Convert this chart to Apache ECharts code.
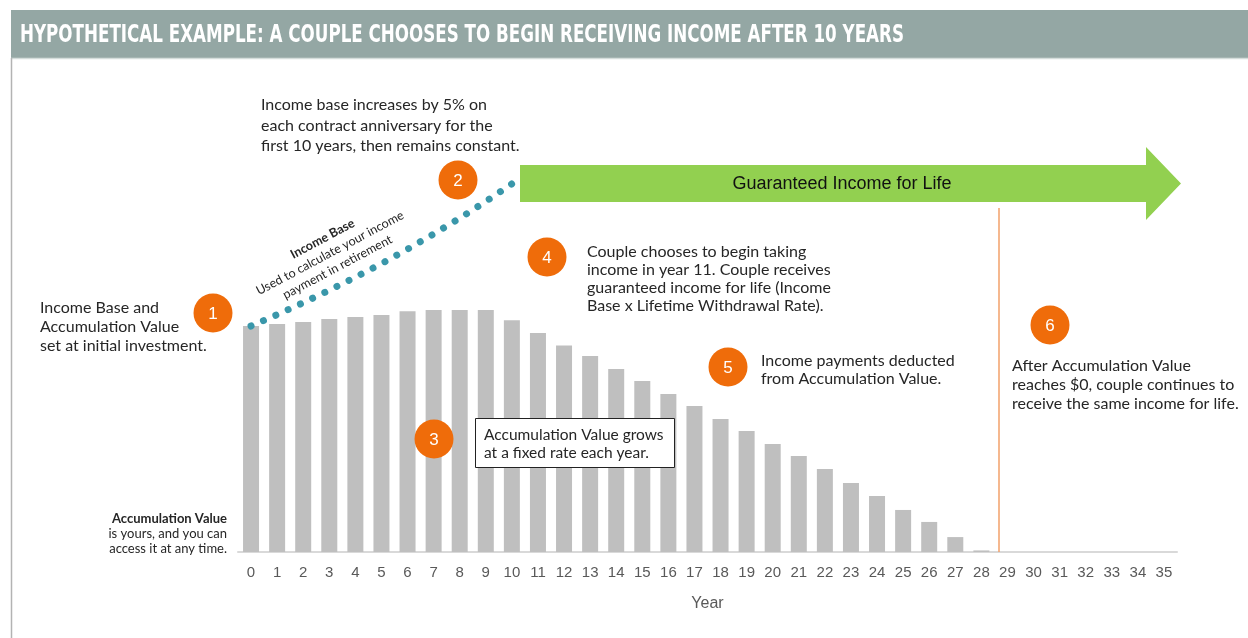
<!DOCTYPE html>
<html>
<head>
<meta charset="utf-8">
<script src="https://cdn.jsdelivr.net/npm/echarts@6/dist/echarts.min.js"></script>
<style>
  html, body { margin: 0; padding: 0; background: #fff; }
  #chart { width: 1248px; height: 638px; }
</style>
</head>
<body>
<div id="chart"></div>
<script>
// chart data
const years = ['0', '1', '2', '3', '4', '5', '6', '7', '8', '9', '10', '11', '12', '13', '14', '15', '16', '17',
  '18', '19', '20', '21', '22', '23', '24', '25', '26', '27', '28', '29', '30', '31', '32', '33', '34', '35']
const accumulationValue = [100, 100.9, 101.8, 103.1, 104, 104.9, 106.5, 107.1, 107.1, 107.1, 102.5, 96.9,
  91.4, 86.7, 81, 75.7, 69.9, 64.6, 58.8, 53.5, 47.8, 42.5, 36.7, 30.5, 24.8, 18.6, 13.3, 6.6, 0.7]
const incomeBase = [100, 105, 110.3, 115.8, 121.6, 127.6, 134, 140.7, 147.7, 155.1, 162.9]

const title = 'HYPOTHETICAL EXAMPLE: A COUPLE CHOOSES TO BEGIN RECEIVING INCOME AFTER 10 YEARS'
const bodyFont = 'Lato'
const orange = '#ef6c0a'
const textColor = '#262626'

const chart = echarts.init(document.getElementById('chart'))

// squeeze the title to the width of the condensed original
const titleFont = 'bold 25px "DejaVu Sans Condensed"'
const ctx = document.createElement('canvas').getContext('2d')
ctx.font = titleFont
const titleScale = 884 / ctx.measureText(title).width

function note(x, y, lines, lineHeight, extra) {
  return {
    type: 'text', x, y, z: 20,
    style: Object.assign({
      text: lines.join('\n'),
      fill: textColor,
      font: '16px ' + bodyFont,
      lineHeight: lineHeight,
      verticalAlign: 'top'
    }, extra || {})
  }
}

function badge(cx, cy, label) {
  return [
    { type: 'circle', z: 20, shape: { cx, cy, r: 19.5 }, style: { fill: orange } },
    {
      type: 'text', z: 21, x: cx, y: cy + 1,
      style: { text: label, fill: '#fff', font: '17px "Liberation Sans"', align: 'center', verticalAlign: 'middle' }
    }
  ]
}

const graphics = [
  // header bar
  { type: 'rect', shape: { x: 11, y: 10, width: 1237, height: 48 }, style: { fill: '#94a7a4' } },
  { type: 'line', shape: { x1: 11, y1: 58.5, x2: 1248, y2: 58.5 }, style: { stroke: '#d5dddb', lineWidth: 1.5 } },
  { type: 'line', shape: { x1: 11.5, y1: 58, x2: 11.5, y2: 638 }, style: { stroke: '#b3b3b3', lineWidth: 1.5 } },
  {
    type: 'text', x: 20, y: 35, scaleX: titleScale,
    style: { text: title, fill: '#fff', font: titleFont, verticalAlign: 'middle' }
  },
  // guaranteed income arrow
  {
    type: 'polygon', z: 10,
    shape: { points: [[520, 165], [1146, 165], [1146, 147], [1181, 183.5], [1146, 220], [1146, 202], [520, 202]] },
    style: { fill: '#92d050' }
  },
  {
    type: 'text', x: 842, y: 184, z: 11,
    style: { text: 'Guaranteed Income for Life', fill: '#111', font: '18px "Liberation Sans"', align: 'center', verticalAlign: 'middle' }
  },
  // point where accumulation value reaches zero
  { type: 'line', z: 5, shape: { x1: 999, y1: 208, x2: 999, y2: 552 }, style: { stroke: '#f2a06a', lineWidth: 1.5 } },
  // rotated income base label
  {
    type: 'group', x: 330, y: 253, rotation: 28 * Math.PI / 180,
    children: [
      { type: 'text', z: 20, x: 0, y: -16, style: { text: 'Income Base', fill: textColor, font: 'bold 12.5px ' + bodyFont, align: 'center', verticalAlign: 'middle' } },
      { type: 'text', z: 20, x: 0, y: 0, style: { text: 'Used to calculate your income', fill: textColor, font: '12.5px ' + bodyFont, align: 'center', verticalAlign: 'middle' } },
      { type: 'text', z: 20, x: 0, y: 16, style: { text: 'payment in retirement', fill: textColor, font: '12.5px ' + bodyFont, align: 'center', verticalAlign: 'middle' } }
    ]
  },
  // notes
  note(40, 298.5, ['Income Base and', 'Accumulation Value', 'set at initial investment.'], 19),
  note(261, 95, ['Income base increases by 5% on', 'each contract anniversary for the', 'first 10 years, then remains constant.'], 20.5),
  note(587, 243, ['Couple chooses to begin taking', 'income in year 11. Couple receives', 'guaranteed income for life (Income', 'Base x Lifetime Withdrawal Rate).'], 18),
  note(761, 352, ['Income payments deducted', 'from Accumulation Value.'], 18),
  note(1012, 356.5, ['After Accumulation Value', 'reaches $0, couple continues to', 'receive the same income for life.'], 19),
  { type: 'rect', z: 19, shape: { x: 475.5, y: 418.5, width: 199, height: 49 }, style: { fill: '#fff', stroke: '#222', lineWidth: 1 } },
  note(484, 426, ['Accumulation Value grows', 'at a fixed rate each year.'], 18, { font: '15.5px ' + bodyFont }),
  note(227, 511.5, ['Accumulation Value'], 15, { align: 'right', font: 'bold 13px ' + bodyFont }),
  note(227, 526, ['is yours, and you can', 'access it at any time.'], 15, { align: 'right', font: '13px ' + bodyFont })
].concat(
  badge(213, 313, '1'),
  badge(458, 180, '2'),
  badge(434, 439, '3'),
  badge(547, 257, '4'),
  badge(728, 367, '5'),
  badge(1050, 325, '6')
)

chart.setOption({
  animation: false,
  grid: { left: 238, right: 71, top: 100, bottom: 86 },
  xAxis: {
    type: 'category',
    data: years,
    boundaryGap: true,
    name: 'Year',
    nameLocation: 'middle',
    nameGap: 44,
    nameTextStyle: { color: '#595959', fontSize: 16, fontFamily: 'Liberation Sans' },
    axisLine: { lineStyle: { color: '#d9d9d9', width: 2 } },
    axisTick: { show: false },
    axisLabel: { color: '#595959', fontSize: 15, fontFamily: 'Liberation Sans', margin: 13, interval: 0 }
  },
  yAxis: {
    type: 'value', min: 0, max: 200, show: false,
    splitLine: { show: false }
  },
  series: [
    {
      name: 'Accumulation Value',
      type: 'bar',
      data: accumulationValue,
      barWidth: 16,
      itemStyle: { color: '#bfbfbf' },
      z: 2
    },
    {
      name: 'Income Base',
      type: 'line',
      data: incomeBase,
      symbol: 'none',
      smooth: false,
      lineStyle: { color: '#3a97aa', width: 7, type: [0.01, 13.5], cap: 'round' },
      z: 3
    }
  ],
  graphic: graphics
})
</script>
</body>
</html>
